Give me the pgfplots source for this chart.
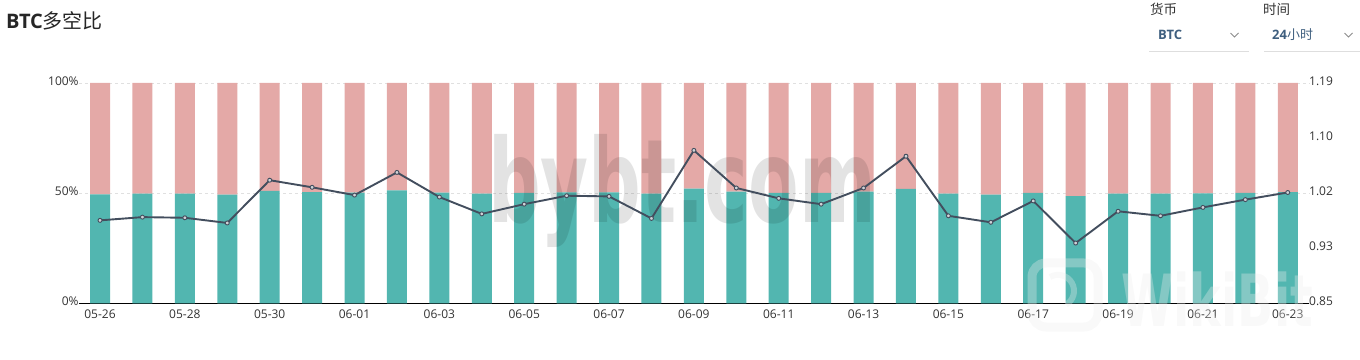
\documentclass[border=0pt]{standalone}
\usepackage{fontspec}
\setmainfont{Open Sans}
\newfontfamily\cjk{Noto Sans CJK SC}
\newfontfamily\wm{DejaVu Sans}
\usepackage{pgfplots}
\usepackage{pgfplotstable}
\pgfplotsset{compat=1.18}
\definecolor{longc}{HTML}{52B6B0}
\definecolor{shortc}{HTML}{E4A9A7}
\definecolor{linec}{HTML}{434E5E}
\definecolor{txt}{HTML}{333333}
\definecolor{blu}{HTML}{3F5F7F}
\pgfplotstableread{
x long short ratio
0 49.5 50.5 0.978
1 49.8 50.2 0.983
2 49.8 50.2 0.982
3 49.3 50.7 0.974
4 51.0 49.0 1.040
5 50.5 49.5 1.029
6 50.2 49.8 1.017
7 51.3 48.7 1.052
8 50.2 49.8 1.014
9 49.8 50.2 0.988
10 50.1 49.9 1.003
11 50.4 49.6 1.016
12 50.4 49.6 1.015
13 49.8 50.2 0.981
14 52.0 48.0 1.086
15 50.7 49.3 1.028
16 50.1 49.9 1.012
17 50.1 49.9 1.003
18 50.7 49.3 1.028
19 51.9 48.1 1.077
20 49.8 50.2 0.985
21 49.3 50.7 0.975
22 50.1 49.9 1.008
23 48.6 51.4 0.943
24 49.8 50.2 0.992
25 49.8 50.2 0.985
26 49.9 50.1 0.998
27 50.1 49.9 1.010
28 50.5 49.5 1.021
}\datatable
\newcommand{\fs}[1]{\fontsize{#1}{#1}\selectfont}
\begin{document}
\begin{tikzpicture}[x=1pt,y=1pt]
\path[use as bounding box] (0,0) rectangle (1360,359);
\begin{axis}[
  at={(78.8pt,55.7pt)}, anchor=south west,
  scale only axis, width=1230.2pt, height=220.3pt,
  ybar stacked, bar width=20pt,
  xmin=-0.5, xmax=28.5, ymin=0, ymax=100,
  axis x line*=bottom, axis y line*=left,
  x axis line style={-,black,line width=1pt},
  y axis line style={draw=none},
  xtick={0,2,...,28},
  xticklabels={05-26,05-28,05-30,06-01,06-03,06-05,06-07,06-09,06-11,06-13,06-15,06-17,06-19,06-21,06-23},
  ytick={0,50,100},
  yticklabels={0\%,50\%,100\%},
  major tick length=0pt,
  tick style={draw=none},
  ymajorgrids,
  grid style={dashed,color=black!12,line width=0.6pt},
  xticklabel style={font=\fs{12},text=txt,inner sep=0pt,yshift=-6pt},
  yticklabel style={font=\fs{12},text=txt,inner sep=0pt,yshift=1.6pt},
  clip=false,
]
\addplot[fill=longc,draw=none] table[x=x,y=long]{\datatable};
\addplot[fill=shortc,draw=none] table[x=x,y=short]{\datatable};
\end{axis}
% watermark bybt.com
\node[anchor=base,inner sep=0pt,text=black,opacity=0.11] at (682,136)
  {\scalebox{0.635}[1]{\wm\fs{116}\bfseries bybt.com}};
\begin{axis}[
  at={(78.8pt,55.7pt)}, anchor=south west,
  scale only axis, width=1230.2pt, height=220.3pt,
  xmin=-0.5, xmax=28.5, ymin=0.85, ymax=1.19,
  axis x line=none, axis y line*=right,
  y axis line style={draw=none},
  ytick={0.85,0.935,1.02,1.105,1.19},
  yticklabels={0.85,0.93,1.02,1.10,1.19},
  major tick length=0pt,
  tick style={draw=none},
  yticklabel style={font=\fs{12},text=txt,inner sep=0pt,yshift=1.6pt},
  clip=false,
]
\addplot[color=linec,line width=1.9pt,mark=*,mark size=2pt,
  mark options={fill=white!75!linec,draw=linec,line width=0.9pt}]
  table[x=x,y=ratio]{\datatable};
\end{axis}
% watermark WikiBit
\begin{scope}[opacity=0.33]
\draw[black!7,line width=9pt,rounded corners=14pt] (1032,32) rectangle (1098,96);
\draw[black!7,line width=6pt] (1050,82) arc (120:-60:16);
\node[anchor=base west,inner sep=0pt,text=black!7] at (1121,33)
  {\scalebox{0.66}[1]{\wm\fs{72}\bfseries WikiBit}};
\end{scope}
% header
\node[anchor=base west,inner sep=0pt,text=black!85] at (6,330)
  {\fs{20}\bfseries BTC{\cjk\mdseries 多空比}};
\node[anchor=base west,inner sep=0pt,text=txt] at (1150,344.5) {\cjk\fs{13.5}货币};
\node[anchor=base west,inner sep=0pt,text=txt] at (1263,344.5) {\cjk\fs{13.5}时间};
\node[anchor=base west,inner sep=0pt,text=blu] at (1158,319.5) {\fs{13}\bfseries BTC};
\node[anchor=base west,inner sep=0pt,text=blu] at (1272,319.5) {\fs{13}\bfseries 24{\cjk\mdseries 小时}};
\draw[black!13,line width=1pt] (1149,307.5) -- (1249,307.5);
\draw[black!13,line width=1pt] (1264,307.5) -- (1360,307.5);
\draw[black!45,line width=1pt] (1230.5,326) -- (1234.5,322) -- (1238.5,326);
\draw[black!45,line width=1pt] (1344.5,326) -- (1348.5,322) -- (1352.5,326);
\end{tikzpicture}
\end{document}
